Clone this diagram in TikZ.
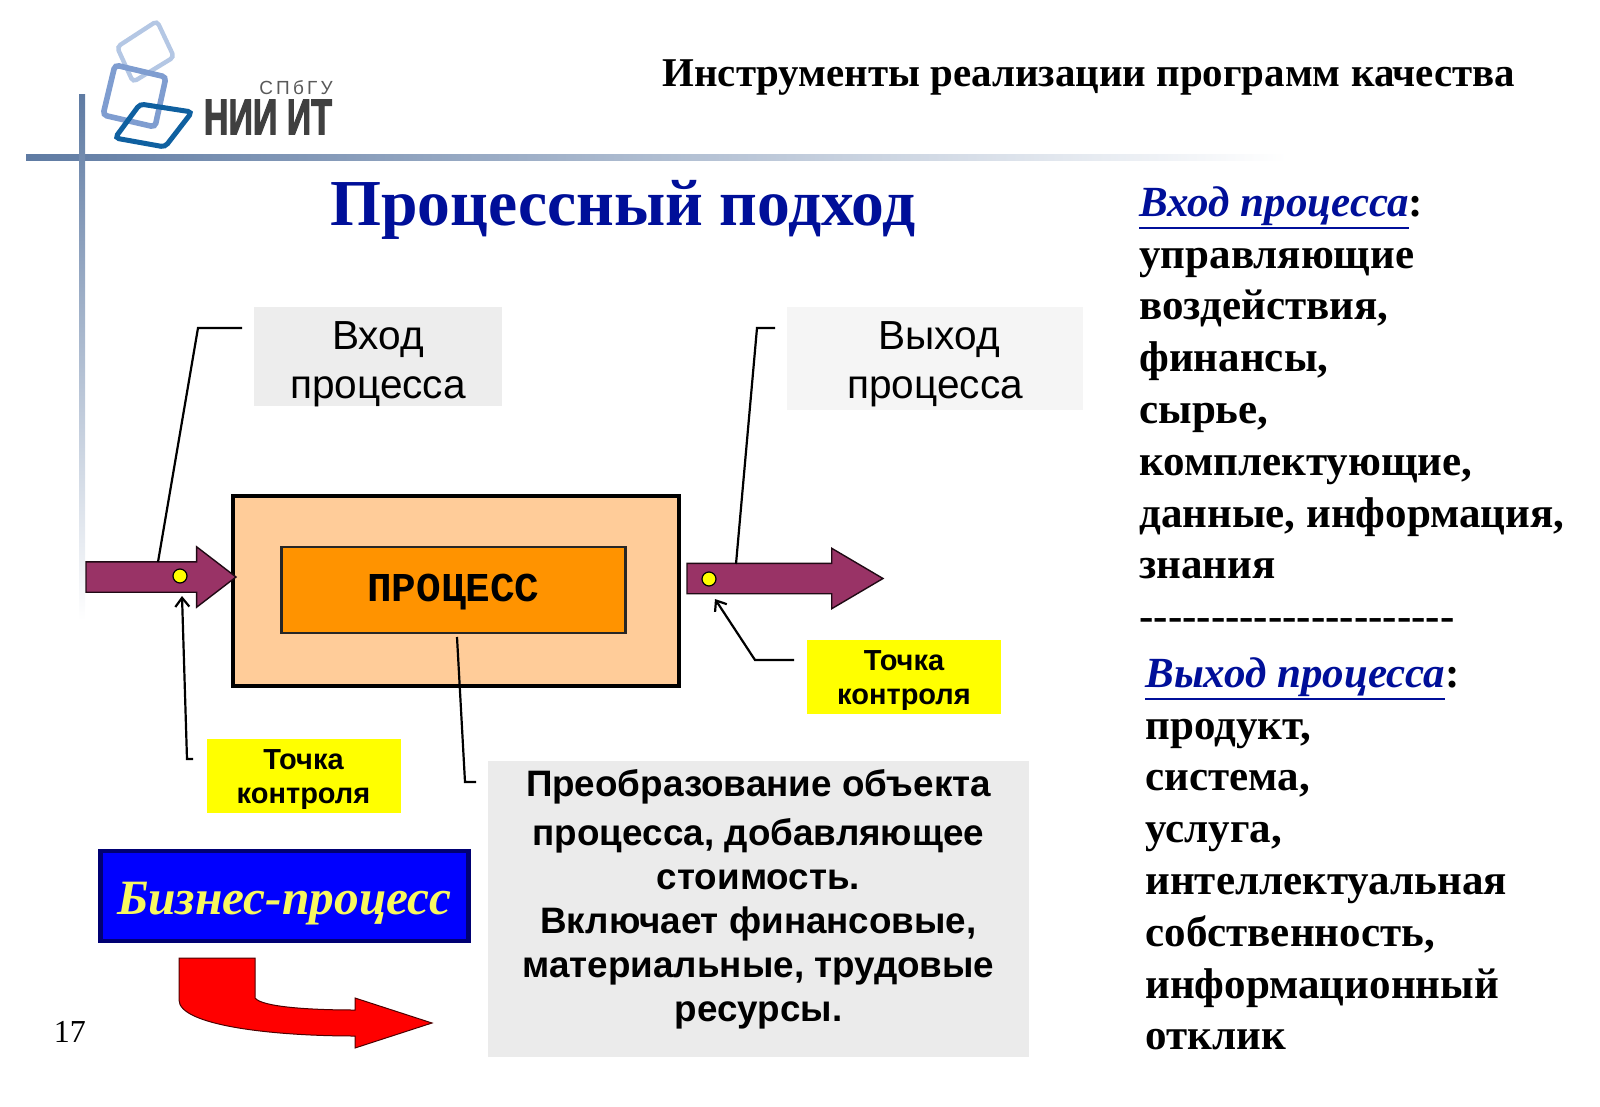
\documentclass[tikz,border=0pt]{standalone}
\usepackage{fontspec}
\usepackage{graphicx}
\usetikzlibrary{shapes.arrows,arrows.meta}
\newfontfamily\serifbf[BoldFont={Liberation Serif Bold},BoldItalicFont={Liberation Serif Bold Italic}]{Liberation Serif}
\newfontfamily\sansbf{Liberation Sans}
\newfontfamily\monobf{Liberation Mono}
\newfontfamily\logofont[FakeBold=3]{Liberation Sans Bold}
\definecolor{barblue}{HTML}{5F7BA3}
\definecolor{plum}{HTML}{993366}
\definecolor{navytext}{HTML}{000F99}
\definecolor{peach}{HTML}{FFCC99}
\definecolor{noteyellow}{HTML}{FFFF00}
\definecolor{bizyellow}{HTML}{F8F860}
\definecolor{logoA}{HTML}{B4C7E4}
\definecolor{logoB}{HTML}{7F9DD0}
\definecolor{logoC}{HTML}{0F60A0}
\newcommand{\headlink}[1]{\vtop{\hbox{\textit{#1}}\kern0.6pt\hrule height 1.1pt}}
\begin{document}
\begin{tikzpicture}[x=0.5pt,y=-0.5pt,>={Straight Barb[length=4.5pt,width=7pt]}]
	\tikzstyle{graybox} = [rectangle, inner sep=0pt]
	\tikzstyle{boxtext} = [inner sep=0pt, align=center, font=\sansbf\fontsize{20.3}{24.5}\selectfont]
	\tikzstyle{notebox} = [rectangle, fill=noteyellow, inner sep=0pt, minimum width=97pt, minimum height=37pt]
	\tikzstyle{notetext} = [inner sep=0pt, align=center, font=\sansbf\bfseries\fontsize{14.5}{17}\selectfont]
	\tikzstyle{flow} = [single arrow, anchor=tail, draw=black!80!plum, fill=plum, line width=0.7pt, inner xsep=0pt, inner ysep=7.25pt, outer sep=0pt, minimum width=29.5pt, single arrow head extend=7.5pt, single arrow head indent=0pt]
	\tikzstyle{dot} = [circle, draw=black, fill=noteyellow, line width=0.6pt, inner sep=0pt, minimum size=7pt]
	\tikzstyle{leader} = [line width=1.1pt]
	\tikzstyle{sidetext} = [anchor=north west, inner sep=0pt, align=left, font=\serifbf\bfseries\fontsize{21.5}{25.9}\selectfont]
	\tikzstyle{lead} = [rounded corners=2pt, line width=2.2pt]
	\useasboundingbox (0,0) rectangle (1600,1107);

	% Bars and logo
	\shade[left color=barblue, right color=white] (26,155) rectangle (1287,161);
	\shade[top color=barblue, bottom color=white] (79,95) rectangle (85,620);
	\draw[lead, color=logoA] (157,21) -- (174,57) -- (133,82) -- (117,47) -- cycle;
	\draw[lead, line width=2.8pt, color=logoB] (115,65) -- (166,77) -- (155,127) -- (103,115) -- cycle;
	\draw[lead, line width=2.5pt, color=logoC] (140,104) -- (192,112) -- (165,147) -- (115,138) -- cycle;
	\node[inner sep=0pt, text=black!65] (SPBGU) at (296,88) {\sansbf\fontsize{9.5}{10}\selectfont С\,П\,б\,Г\,У};
	\node[inner sep=0pt, text=black!75] (NIIT) at (268,117) {\scalebox{.68}[1]{\logofont\fontsize{25}{25}\selectfont НИИ ИТ}};

	% Headings
	\node[inner sep=0pt] (Header) at (1089,78) {\serifbf\bfseries\fontsize{20.45}{23}\selectfont Инструменты реализации программ качества};
	\node[inner sep=0pt, text=navytext] (Title) at (623,210) {\serifbf\bfseries\fontsize{32.8}{38}\selectfont Процессный подход};

	% Define nodes
	\node[graybox, fill=black!7, minimum width=124pt, minimum height=49.5pt] (InBox) at (378,356.5) {};
	\node[boxtext] (InText) at (378,364) {Вход\\процесса};
	\node[graybox, fill=black!4, minimum width=148pt, minimum height=51.5pt] (OutBox) at (935,358.5) {};
	\node[boxtext] (OutText) at (935,364) {\hspace*{4pt}Выход\\процесса};
	\node[rectangle, draw=black, fill=peach, line width=2pt, inner sep=0pt, minimum width=223pt, minimum height=95pt] (Outer) at (456,590.5) {};
	\node[rectangle, draw=black!85, fill=orange!85!yellow, line width=1.1pt, inner sep=0pt, minimum width=172pt, minimum height=43pt] (Inner) at (453.5,590) {};
	\node[inner sep=0pt] (InnerText) at (453.5,592) {\monobf\bfseries\fontsize{20.5}{24}\selectfont ПРОЦЕСС};
	\node[flow, minimum height=75pt, single arrow tip angle=75] (InArrow) at (86,577) {};
	\node[flow, minimum height=98pt, single arrow tip angle=61] (OutArrow) at (687,578.5) {};
	\node[dot] (InDot) at (180,576) {};
	\node[dot] (OutDot) at (709,579) {};
	\node[notebox] (NoteA) at (303.5,775.5) {};
	\node[notetext] (NoteAText) at (303.5,779.5) {Точка\\контроля};
	\node[notebox] (NoteB) at (904,676.5) {};
	\node[notetext] (NoteBText) at (904,680.5) {Точка\\контроля};
	\node[graybox, fill=black!8, minimum width=270.5pt, minimum height=148pt] (Change) at (758.5,909) {};
	\node[inner sep=0pt, align=center, font=\sansbf\bfseries\fontsize{18.4}{22}\selectfont] (ChangeText) at (758.5,899) {Преобразование объекта\\[2.6pt]процесса, добавляющее\\стоимость.\\Включает финансовые,\\материальные, трудовые\\ресурсы.};
	\node[rectangle, draw=blue!45!black, fill=blue, line width=2.4pt, inner sep=0pt, minimum width=184pt, minimum height=45pt] (Business) at (284.5,896) {};
	\node[inner sep=0pt, text=bizyellow] (BusinessText) at (284.5,904) {\serifbf\bfseries\itshape\fontsize{24.7}{28}\selectfont Бизнес-процесс};
	\node[inner sep=0pt] (PageNo) at (70,1032) {\serifbf\fontsize{16}{18}\selectfont 17};

	% Side lists
	\node[sidetext] (InList) at (1139,186) {\textcolor{navytext}{\headlink{Вход процесса}}:\\управляющие\\воздействия,\\финансы,\\сырье,\\комплектующие,\\данные, информация,\\знания\\----------------------};
	\node[sidetext] (OutList) at (1145,657) {\textcolor{navytext}{\headlink{Выход процесса}}:\\продукт,\\система,\\услуга,\\интеллектуальная\\собственность,\\информационный\\отклик};

	% Free ends of the leaders
	\coordinate (InFoot) at (158,562);
	\coordinate (InElbow) at (198,328);
	\coordinate (InEnd) at (242,328);
	\coordinate (OutFoot) at (736,564);
	\coordinate (OutElbow) at (757,328);
	\coordinate (OutEnd) at (775,328);
	\coordinate (ProcFoot) at (457,637);
	\coordinate (ProcElbow) at (465,782);
	\coordinate (ProcEnd) at (476,782);
	\coordinate (NoteAEnd) at (193,759);
	\coordinate (NoteAElbow) at (187,759);
	\coordinate (NoteATip) at (182,596);
	\coordinate (NoteBEnd) at (794,660);
	\coordinate (NoteBElbow) at (755,660);
	\coordinate (NoteBTip) at (715,599);

	% Draw edges
	\draw[leader] (InFoot) -- (InElbow) -- (InEnd);
	\draw[leader] (OutFoot) -- (OutElbow) -- (OutEnd);
	\draw[leader] (ProcFoot) -- (ProcElbow) -- (ProcEnd);
	\draw[leader, ->] (NoteAEnd) -- (NoteAElbow) -- (NoteATip);
	\draw[leader, ->] (NoteBEnd) -- (NoteBElbow) -- (NoteBTip);

	% Red turn arrow
	\draw[draw=black!70!red, fill=red, line width=0.5pt] (179,958) -- (255,958) -- (255,998) .. controls (262,1007) and (310,1010) .. (355,1010) -- (355,998) -- (432,1023) -- (355,1048) -- (355,1036) .. controls (270,1036) and (179,1025) .. (179,1000) -- cycle;
\end{tikzpicture}
\end{document}
